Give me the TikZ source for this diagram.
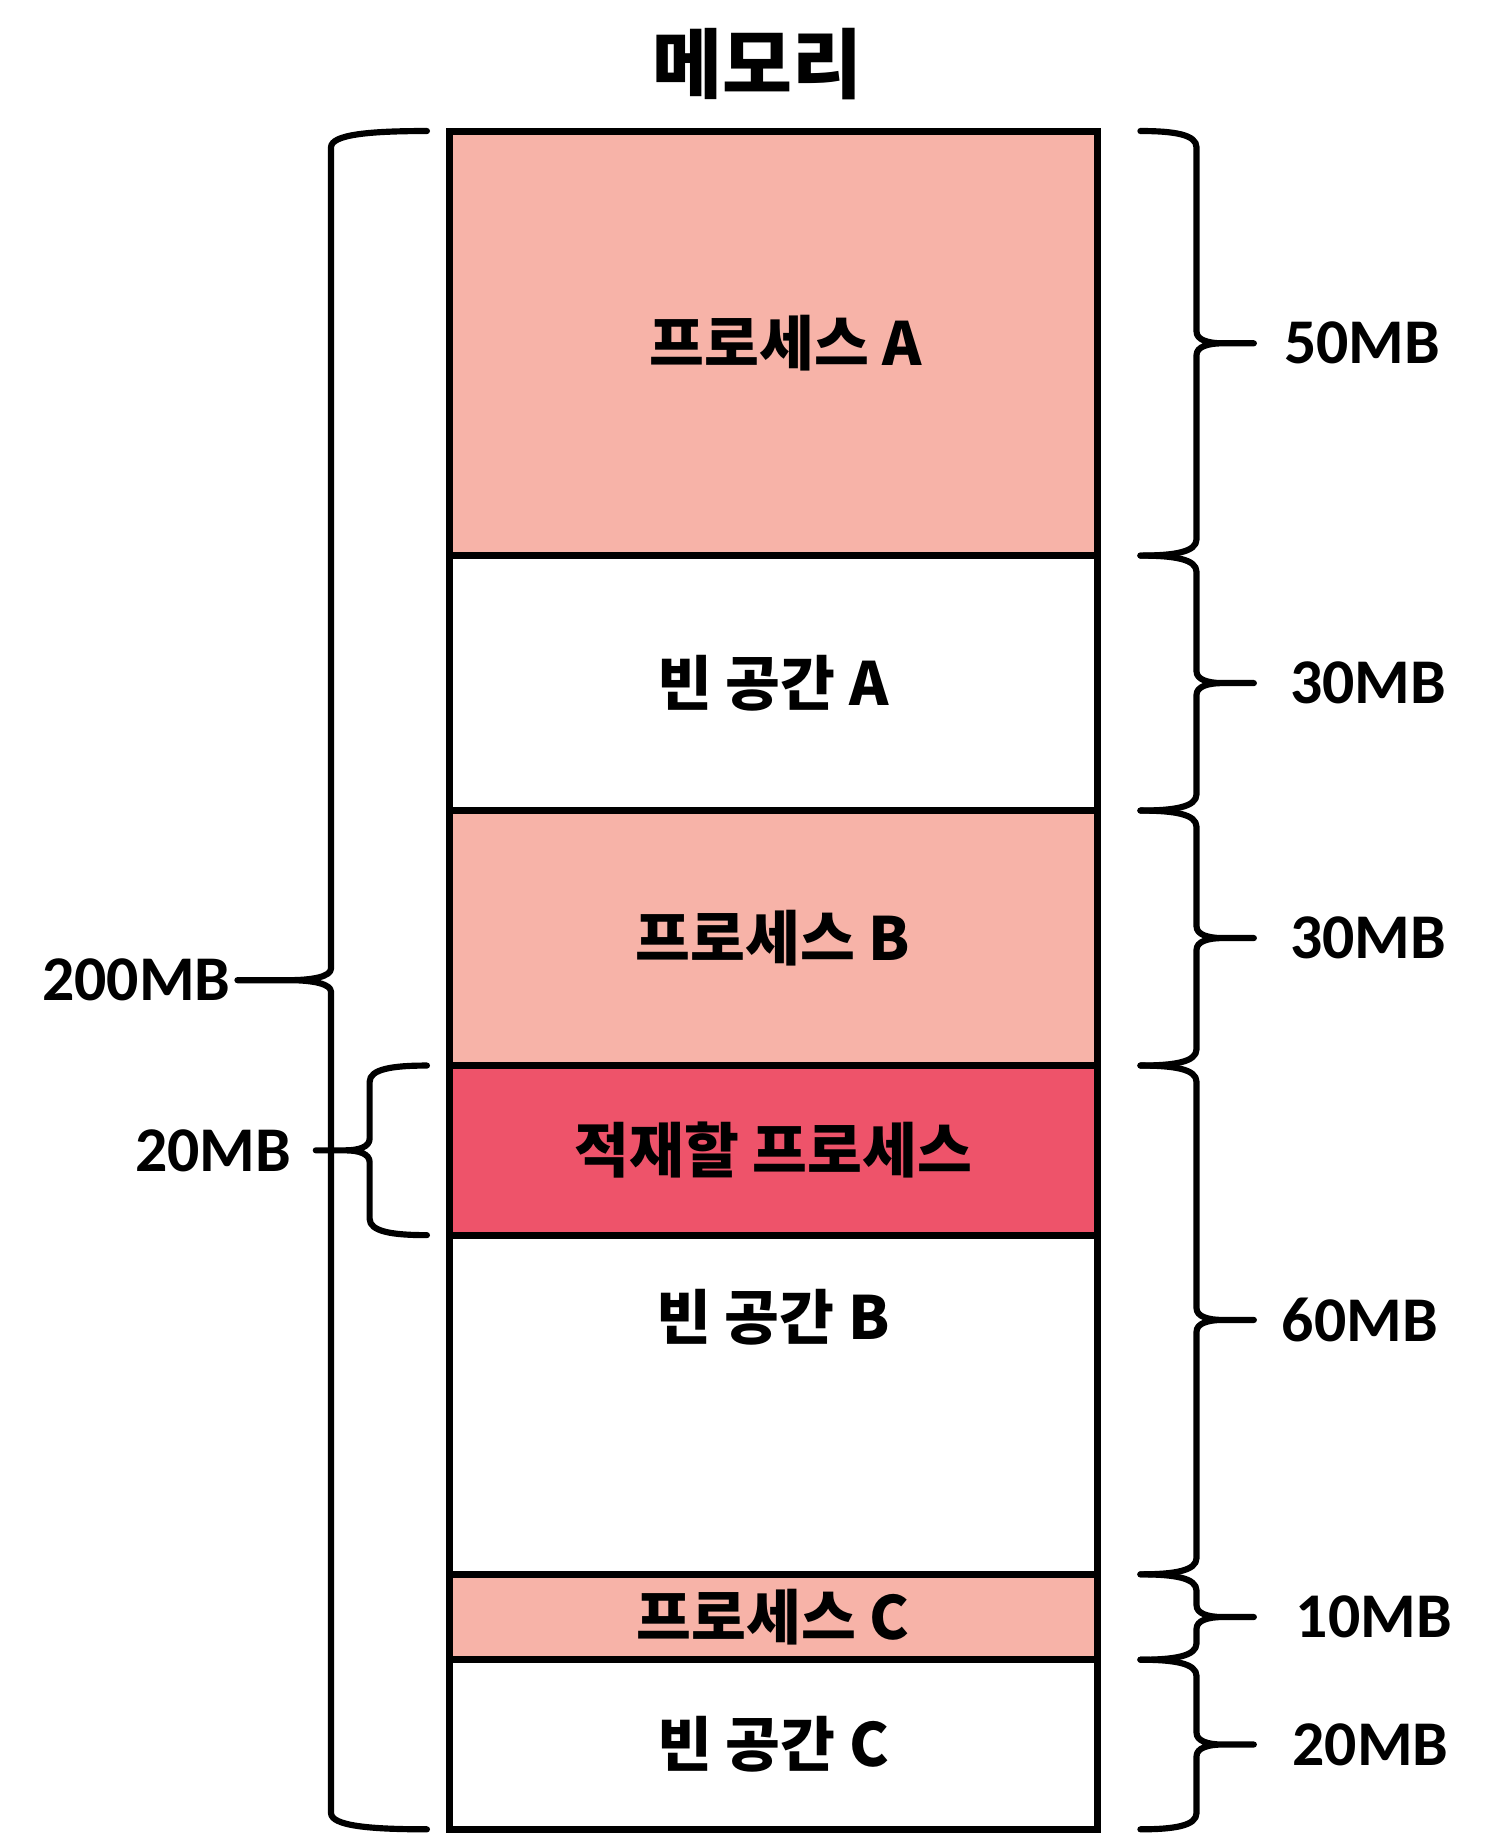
\documentclass[tikz,border=0pt]{standalone}
\usepackage{fontspec}
\setmainfont{Carlito}
\newfontfamily\krfont{Noto Sans CJK KR}
\usetikzlibrary{positioning, calc}

\definecolor{procfill}{HTML}{F7B3A8}
\definecolor{loadfill}{HTML}{EE536A}

% brace: top point, bottom point, end / spine / tip offsets, tip name
\newcommand{\sizebrace}[6]{%
  \draw[bracepath] let \p1=(#1), \p2=(#2), \p3=($(#1)!.5!(#2)$),
      \p4=($(#1)+(#3,0)$), \p5=($(#1)+(#4,0)$), \p6=($(#1)+(#5,0)$) in
    (\x4,\y1) .. controls ({\x4+0.6*(\x5-\x4)},\y1) and (\x5,{\y1-0.3mm}) .. (\x5,{\y1-1.4mm})
    -- (\x5,{\y3+1mm}) .. controls (\x5,{\y3+0.3mm}) and ({\x5+0.2*(\x6-\x5)},\y3) .. ({\x5+0.45*(\x6-\x5)},\y3)
    -- (\x6,\y3) coordinate (#6) -- ({\x5+0.45*(\x6-\x5)},\y3)
    .. controls ({\x5+0.2*(\x6-\x5)},\y3) and (\x5,{\y3-0.3mm}) .. (\x5,{\y3-1mm})
    -- (\x5,{\y2+1.4mm}) .. controls (\x5,{\y2+0.3mm}) and ({\x4+0.6*(\x5-\x4)},\y2) .. (\x4,\y2);
}

\begin{document}
\begin{tikzpicture}[x=0.1mm, y=-0.1mm,
    every node/.style={inner sep=0pt, outer sep=0pt},
    kr/.style={font=\krfont\bfseries\fontsize{14.5}{17}\selectfont},
    region/.style={kr, draw, line width=1.7pt, minimum width=55.4mm},
    proc/.style={region, fill=procfill},
    load/.style={region, fill=loadfill},
    free/.style={region, fill=white},
    mbsize/.style={font=\bfseries\fontsize{15.5}{18}\selectfont},
    bracepath/.style={line width=1.5pt, line cap=round, line join=round}
]
\useasboundingbox (0,0) rectangle (1277,1568);

% Title
\node[font=\krfont\bfseries\fontsize{18.5}{22}\selectfont] (title) at (648,55) {메모리};

% Memory regions, top to bottom
\node[proc, minimum height=36.3mm, anchor=north] (pa) at (661,112) {\hspace*{2.2mm}프로세스 A};
\node[free, minimum height=21.8mm, below=0pt of pa] (fa) {빈 공간 A};
\node[proc, minimum height=21.8mm, below=0pt of fa] (pb) {프로세스 B};
\node[load, minimum height=14.5mm, below=0pt of pb] (ld) {적재할 프로세스};
\node[free, minimum height=29.0mm, below=0pt of ld] (fb) {};
\node[proc, minimum height=7.3mm,  below=0pt of fb] (pc) {프로세스 C};
\node[free, minimum height=14.5mm, below=0pt of pc] (fc) {빈 공간 C};
\node[kr] (fbtext) at ($(fb.north)+(0,70)$) {빈 공간 B};

% Sizes on the right
\sizebrace{pa.north east}{pa.south east}{3.7mm}{8.5mm}{13.4mm}{t50}
\sizebrace{fa.north east}{fa.south east}{3.7mm}{8.5mm}{13.4mm}{t30a}
\sizebrace{pb.north east}{pb.south east}{3.7mm}{8.5mm}{13.4mm}{t30b}
\sizebrace{ld.north east}{fb.south east}{3.7mm}{8.5mm}{13.4mm}{t60}
\sizebrace{pc.north east}{pc.south east}{3.7mm}{8.5mm}{13.4mm}{t10}
\sizebrace{fc.north east}{fc.south east}{3.7mm}{8.5mm}{13.4mm}{t20}

\node[mbsize, right=2.6mm of t50]  (l50)  {50MB};
\node[mbsize, right=3.1mm of t30a] (l30a) {30MB};
\node[mbsize, right=3.1mm of t30b] (l30b) {30MB};
\node[mbsize, right=2.4mm of t60]  (l60)  {60MB};
\node[mbsize, right=3.6mm of t10]  (l10)  {10MB};
\node[mbsize, right=3.3mm of t20]  (l20)  {20MB};

% Sizes on the left
\sizebrace{pa.north west}{fc.south west}{-1.9mm}{-10.1mm}{-18.1mm}{t200}
\sizebrace{ld.north west}{ld.south west}{-1.9mm}{-6.8mm}{-11.4mm}{t20l}

\node[mbsize, left=0.6mm of t200] (l200) {200MB};
\node[mbsize, left=2.1mm of t20l] (l20l) {20MB};

\end{tikzpicture}
\end{document}
